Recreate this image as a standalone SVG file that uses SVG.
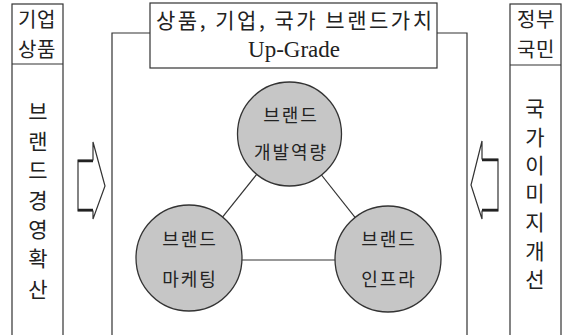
<svg xmlns="http://www.w3.org/2000/svg" width="568" height="335" viewBox="0 0 568 335">
<style>
.ln{fill:none;stroke:#333;stroke-width:1.2}
.box{fill:#fff;stroke:#333;stroke-width:1.2}
.kr{font-family:"Noto Sans CJK KR","Noto Sans",sans-serif;fill:#222}
.side{font-size:21px;text-anchor:middle}
.hd{font-size:20px;text-anchor:middle;letter-spacing:0.5px}
.circ{fill:#c6c6c6;stroke:#333;stroke-width:1.3}
.ct{font-size:18px;text-anchor:middle;letter-spacing:2px}
.arr{fill:#fff;stroke:#333;stroke-width:1.2}
.thick{stroke:#222;stroke-width:2.5}
</style>
<rect width="568" height="335" fill="#fff"/>
<g id="frame">
<path class="ln" d="M112,340 V33 H467 V340"/>
</g>
<g id="title">
<rect class="box" x="150" y="3" width="287" height="65"/>
<text class="kr" x="294" y="28" font-size="21" text-anchor="middle" textLength="276" lengthAdjust="spacing">상품, 기업, 국가 브랜드가치</text>
<text x="294" y="57" font-family="Liberation Serif,serif" font-size="23" text-anchor="middle" fill="#222">Up-Grade</text>
</g>
<g id="left-col">
<rect class="box" x="12" y="4" width="51" height="340"/>
<line class="ln" x1="12" y1="64" x2="63" y2="64"/>
<text class="kr hd" x="37" y="27">기업</text>
<text class="kr hd" x="37" y="57">상품</text>
<text class="kr side" x="38"><tspan x="38" y="119">브</tspan><tspan x="38" y="149">랜</tspan><tspan x="38" y="178">드</tspan><tspan x="38" y="208">경</tspan><tspan x="38" y="237">영</tspan><tspan x="38" y="266">확</tspan><tspan x="38" y="297">산</tspan></text>
</g>
<g id="right-col">
<rect class="box" x="510" y="4" width="51" height="340"/>
<line class="ln" x1="510" y1="65" x2="561" y2="65"/>
<text class="kr hd" x="536" y="27">정부</text>
<text class="kr hd" x="536" y="57">국민</text>
<text class="kr side" x="535"><tspan x="535" y="116">국</tspan><tspan x="535" y="145">가</tspan><tspan x="535" y="173">이</tspan><tspan x="535" y="201">미</tspan><tspan x="535" y="230">지</tspan><tspan x="535" y="259">개</tspan><tspan x="535" y="287">선</tspan></text>
</g>
<g id="arrow-right">
<polygon class="arr" points="78,160 93,160 93,142 105,186 93,219 93,211 78,211"/>
<line class="thick" x1="78" y1="161" x2="93" y2="161"/>
<line class="thick" x1="78" y1="210" x2="93" y2="210"/>
</g>
<g id="arrow-left">
<polygon class="arr" points="498,159 482,159 482,141 471,185 482,219 482,211 498,211"/>
<line class="thick" x1="482" y1="160" x2="498" y2="160"/>
<line class="thick" x1="482" y1="210" x2="498" y2="210"/>
</g>
<g id="connectors">
<line class="ln" x1="289" y1="134" x2="189" y2="259"/>
<line class="ln" x1="289" y1="134" x2="388" y2="259"/>
<line class="ln" x1="189" y1="260" x2="388" y2="260"/>
</g>
<g id="node-top">
<circle class="circ" cx="289.5" cy="134" r="52"/>
<text class="kr ct" x="291" y="122">브랜드</text>
<text class="kr ct" x="291" y="159">개발역량</text>
</g>
<g id="node-left">
<circle class="circ" cx="189" cy="258" r="53"/>
<text class="kr ct" x="190" y="246">브랜드</text>
<text class="kr ct" x="190" y="286">마케팅</text>
</g>
<g id="node-right">
<circle class="circ" cx="388" cy="259" r="53"/>
<text class="kr ct" x="389" y="246">브랜드</text>
<text class="kr ct" x="389" y="286">인프라</text>
</g>
</svg>
